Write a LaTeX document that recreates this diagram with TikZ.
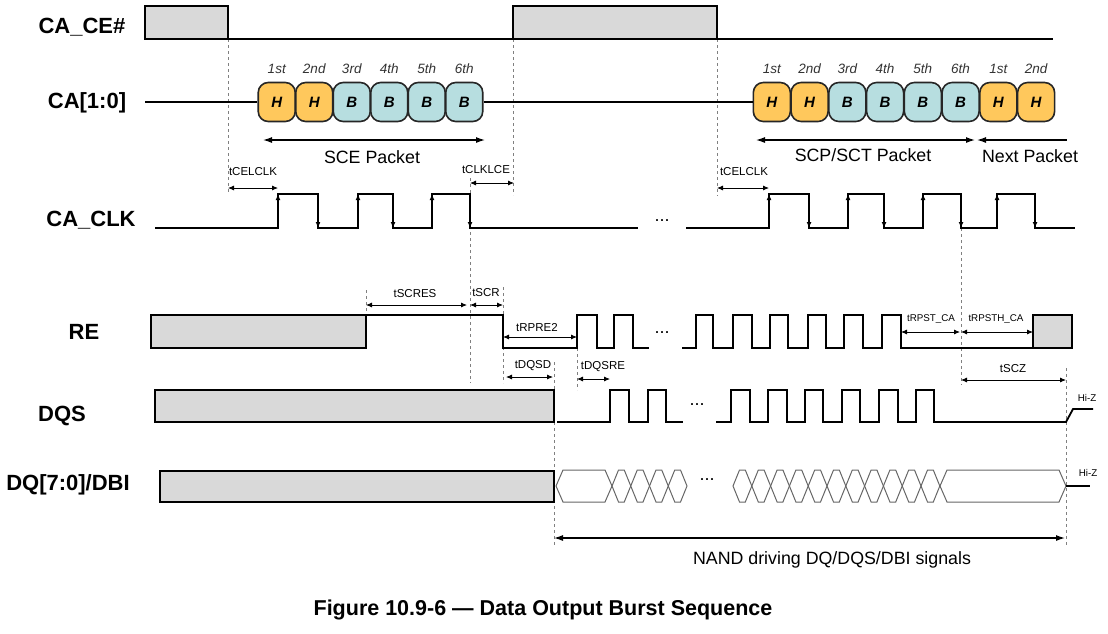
\documentclass[tikz,border=0pt]{standalone}
\usepackage{fontspec}
\setmainfont{Liberation Sans}
\usetikzlibrary{arrows.meta,positioning}
\definecolor{headFill}{HTML}{FFC85C}
\definecolor{bodyFill}{HTML}{B7DEE0}
\definecolor{busyFill}{HTML}{D9D9D9}
\tikzset{%
  >={Latex[width=5pt,length=6pt]},
  % Specifications for style of waveforms:
       signal/.style = {line width=1.8pt, line join=miter},
         busy/.style = {signal, fill=busyFill},
          eye/.style = {draw=black!60, line width=1pt},
        guide/.style = {gray, dashed, line width=0.5pt},
       timing/.style = {<->, line width=0.8pt},
      clkEdge/.style = {-{Latex[width=5pt,length=6pt]}, line width=1.2pt},
    pktArrow/.style = {>={Latex[width=6pt,length=9pt]}, <->, line width=1.2pt},
  % Specifications for style of texts:
      sigName/.style = {font=\fontsize{22}{24}\selectfont\bfseries},
        tName/.style = {font=\fontsize{11.5}{13}\selectfont, inner sep=1pt},
   tNameSmall/.style = {tName, font=\fontsize{9.8}{11}\selectfont},
      ordinal/.style = {font=\fontsize{13.5}{15}\selectfont\itshape, text=black!80, inner sep=0pt},
          pkt/.style = {rectangle, rounded corners=10pt, draw=black!85, line width=1.6pt,
                        minimum width=37pt, minimum height=39pt, inner sep=0pt,
                        font=\fontsize{15}{16}\selectfont\bfseries\itshape},
      pktText/.style = {font=\fontsize{17.8}{20}\selectfont},
         dots/.style = {font=\fontsize{18}{20}\selectfont},
}
\begin{document}
\begin{tikzpicture}[x=1pt, y=-1pt]
  \useasboundingbox (0,0) rectangle (1108,633);

  % Signal names
  \node[sigName] (ceName)  at (82,27)  {CA\_CE\#};
  \node[sigName] (caName)  at (87,103) {CA[1:0]};
  \node[sigName] (clkName) at (91,220) {CA\_CLK};
  \node[sigName] (reName)  at (84,332) {RE};
  \node[sigName] (dqsName) at (62,416) {DQS};
  \node[sigName] (dqName)  at (68,485) {DQ[7:0]/DBI};

  % Dashed guide lines
  \foreach \x/\ya/\yb in {228/39/192, 513/39/195, 717/39/196, 470/178/383, 961/228/385,
                          366/290/315, 503/287/383, 554/362/547, 577/348/390, 1066/368/547}
    \draw[guide] (\x,\ya) -- (\x,\yb);

  % CA_CE#
  \draw[busy] (145,6) rectangle (228,39);
  \draw[signal] (228,39) -- (513,39);
  \draw[busy] (513,6) rectangle (717,39);
  \draw[signal] (717,39) -- (1053,39);

  % CA[1:0] packets
  \foreach \t/\c/\o [count=\i] in {H/headFill/1st, H/headFill/2nd, B/bodyFill/3rd,
                                   B/bodyFill/4th, B/bodyFill/5th, B/bodyFill/6th}{
    \node[pkt, fill=\c] (sce\i) at (239.25+37.5*\i,102) {\t};
    \node[ordinal, above=8pt of sce\i] {\o};
  }
  \foreach \t/\c/\o [count=\i] in {H/headFill/1st, H/headFill/2nd, B/bodyFill/3rd,
                                   B/bodyFill/4th, B/bodyFill/5th, B/bodyFill/6th,
                                   H/headFill/1st, H/headFill/2nd}{
    \node[pkt, fill=\c] (scp\i) at (734.1+37.75*\i,102) {\t};
    \node[ordinal, above=8pt of scp\i] {\o};
  }
  \draw[signal] (145,102) -- (sce1.west);
  \draw[signal] (sce6.east) -- (scp1.west);

  \draw[pktArrow] (263,140) -- (485,140);
  \node[pktText] (sceText) at (372,157) {SCE Packet};
  \draw[pktArrow] (756,140) -- (975,140);
  \node[pktText] (scpText) at (863,155) {SCP/SCT Packet};
  \draw[pktArrow, <-] (977,140) -- (1067,140);
  \node[pktText] (nextText) at (1030,156) {Next Packet};

  % CA_CLK
  \draw[signal] (155,228) \foreach \r/\f in {278/318, 358/393, 432/470}{
    -- (\r,228) -- (\r,194) -- (\f,194) -- (\f,228)} -- (638,228);
  \node[dots] (clkDots) at (662,221) {...};
  \draw[signal] (686,228) \foreach \r/\f in {769/809, 848/884, 923/961, 997/1035}{
    -- (\r,228) -- (\r,194) -- (\f,194) -- (\f,228)} -- (1075,228);
  \foreach \r in {278,358,432,769,848,923,997}
    \draw[clkEdge] (\r,228) -- (\r,194);
  \foreach \f in {318,393,470,809,884,961,1035}
    \draw[clkEdge] (\f,194) -- (\f,228);

  \node[tName] (celclkA) at (253,172) {tCELCLK};
  \draw[timing] (228,188) -- (278,188);
  \node[tName] (clklce) at (486,170) {tCLKLCE};
  \draw[timing] (470,183) -- (514,183);
  \node[tName] (celclkB) at (744,172) {tCELCLK};
  \draw[timing] (717,188) -- (769,188);

  % RE
  \draw[busy] (151,315) rectangle (366,348);
  \draw[signal] (366,315) -- (503,315) -- (503,348) \foreach \r/\f in {577/597, 614/633}{
    -- (\r,348) -- (\r,315) -- (\f,315) -- (\f,348)} -- (649,348);
  \node[dots] (reDots) at (662,333) {...};
  \draw[signal] (682,348) \foreach \r/\f in {696/713, 733/752, 770/788, 808/826, 844/863, 882/901}{
    -- (\r,348) -- (\r,315) -- (\f,315) -- (\f,348)} -- (1033,348);
  \draw[busy] (1033,315) rectangle (1072,348);

  \node[tName] (scres) at (415,294) {tSCRES};
  \draw[timing] (366,305) -- (467,305);
  \node[tName] (scr) at (486,293) {tSCR};
  \draw[timing] (470,305) -- (503,305);
  \node[tName] (rpre) at (537,328) {tRPRE2};
  \draw[timing] (503,337) -- (577,337);
  \node[tNameSmall] (rpst) at (931,319) {tRPST\_CA};
  \draw[timing] (901,332) -- (960,332);
  \node[tNameSmall] (rpsth) at (996,319) {tRPSTH\_CA};
  \draw[timing] (961,332) -- (1033,332);

  % DQS
  \draw[busy] (155,390) rectangle (554,422);
  \draw[signal] (557,422) \foreach \r/\f in {610/629, 648/666}{
    -- (\r,422) -- (\r,390) -- (\f,390) -- (\f,422)} -- (683,422);
  \node[dots] (dqsDots) at (697,405) {...};
  \draw[signal] (716,422) \foreach \r/\f in {731/750, 768/787, 805/823, 842/860, 879/898, 916/934}{
    -- (\r,422) -- (\r,390) -- (\f,390) -- (\f,422)} -- (1066,422) -- (1073,409) -- (1093,409);
  \node[tNameSmall] (hizA) at (1087,398) {Hi-Z};

  \node[tName] (dqsd) at (533,366) {tDQSD};
  \draw[timing] (506,377) -- (553,377);
  \node[tName] (dqsre) at (603,367) {tDQSRE};
  \draw[timing] (577,379) -- (610,379);
  \node[tName] (scz) at (1013,369) {tSCZ};
  \draw[timing] (961,380) -- (1066,380);

  % DQ[7:0]/DBI
  \draw[busy] (160,471) rectangle (554,502);
  \foreach \a/\b in {556/612, 940/1066}
    \draw[eye] (\a,486) -- (\a+7,470) -- (\b-7,470) -- (\b,486) -- (\b-7,502) -- (\a+7,502) -- cycle;
  \foreach \i [evaluate=\i as \a using 612+18.75*\i, evaluate=\i as \b using 630.75+18.75*\i] in {0,...,3}
    \draw[eye] (\a,486) -- (\a+6.5,470) -- (\b-6.5,470) -- (\b,486) -- (\b-6.5,502) -- (\a+6.5,502) -- cycle;
  \node[dots] (dqDots) at (707,480) {...};
  \foreach \i [evaluate=\i as \a using 733+18.8*\i, evaluate=\i as \b using 751.8+18.8*\i] in {0,...,10}
    \draw[eye] (\a,486) -- (\a+6.5,470) -- (\b-6.5,470) -- (\b,486) -- (\b-6.5,502) -- (\a+6.5,502) -- cycle;
  \draw[signal] (1066,486) -- (1090,486);
  \node[tNameSmall] (hizB) at (1088,473) {Hi-Z};

  \draw[pktArrow] (554,538) -- (1065,538);
  \node[pktText] (nandText) at (832,560) {NAND driving DQ/DQS/DBI signals};

  \node[font=\fontsize{21.5}{24}\selectfont\bfseries] (caption) at (543,610)
       {Figure 10.9-6 — Data Output Burst Sequence};
\end{tikzpicture}
\end{document}
